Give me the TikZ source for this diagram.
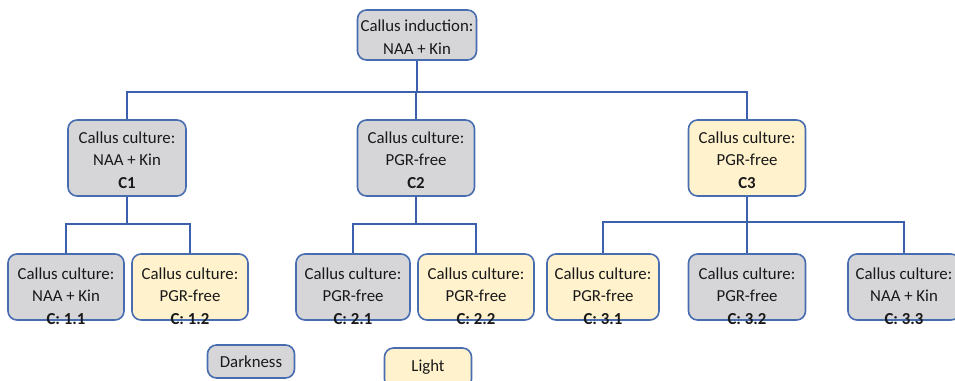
\documentclass[tikz,border=0pt]{standalone}
\usepackage{fontspec}
\setmainfont{Carlito}
\definecolor{gfill}{RGB}{214,214,216}
\definecolor{yfill}{RGB}{255,242,204}
\definecolor{bord}{RGB}{72,108,176}
\definecolor{conn}{RGB}{60,96,172}
\definecolor{txt}{RGB}{25,25,25}
\begin{document}
\begin{tikzpicture}[x=1pt,y=-1pt,
  boxbase/.style={draw=bord,line width=1.6pt,rounded corners=9pt,inner sep=0pt},
  gbox/.style={boxbase,fill=gfill},
  ybox/.style={boxbase,fill=yfill},
  lbl/.style={align=center,text=txt,font=\fontsize{16.8}{22.5}\selectfont,inner sep=0pt},
  conline/.style={draw=conn,line width=1.6pt}]
\useasboundingbox (0,0) rectangle (955,380);
% top
\node[gbox,minimum width=119pt,minimum height=50pt] (top) at (417,35) {};
\node[lbl] (topt) at (417,37) {Callus induction:\\NAA + Kin};
% level 1
\node[gbox,minimum width=118pt,minimum height=76pt] (c1) at (127,158) {};
\node[lbl] (c1t) at (127,160) {Callus culture:\\NAA + Kin\\\textbf{C1}};
\node[gbox,minimum width=117pt,minimum height=76pt] (c2) at (416,158) {};
\node[lbl] (c2t) at (416,160) {Callus culture:\\PGR-free\\\textbf{C2}};
\node[ybox,minimum width=117pt,minimum height=76pt] (c3) at (747,158) {};
\node[lbl] (c3t) at (747,160) {Callus culture:\\PGR-free\\\textbf{C3}};
% level 2
\node[gbox,minimum width=116pt,minimum height=66pt] (c11) at (66,287) {};
\node[lbl] (c11t) at (66,296) {Callus culture:\\NAA + Kin\\\textbf{C: 1.1}};
\node[ybox,minimum width=116pt,minimum height=66pt] (c12) at (190,287) {};
\node[lbl] (c12t) at (190,296) {Callus culture:\\PGR-free\\\textbf{C: 1.2}};
\node[gbox,minimum width=114pt,minimum height=66pt] (c21) at (353,287) {};
\node[lbl] (c21t) at (353,296) {Callus culture:\\PGR-free\\\textbf{C: 2.1}};
\node[ybox,minimum width=116pt,minimum height=66pt] (c22) at (476,287) {};
\node[lbl] (c22t) at (476,296) {Callus culture:\\PGR-free\\\textbf{C: 2.2}};
\node[ybox,minimum width=112pt,minimum height=66pt] (c31) at (603,287) {};
\node[lbl] (c31t) at (603,296) {Callus culture:\\PGR-free\\\textbf{C: 3.1}};
\node[gbox,minimum width=117pt,minimum height=66pt] (c32) at (747,287) {};
\node[lbl] (c32t) at (747,296) {Callus culture:\\PGR-free\\\textbf{C: 3.2}};
\node[gbox,minimum width=112pt,minimum height=66pt] (c33) at (904,287) {};
\node[lbl] (c33t) at (904,296) {Callus culture:\\NAA + Kin\\\textbf{C: 3.3}};
% legend
\node[gbox,minimum width=87pt,minimum height=33pt] (dark) at (251,361.5) {};
\node[lbl] (darkt) at (251,362) {Darkness};
\node[ybox,minimum width=87pt,minimum height=40pt] (light) at (428,368) {};
\node[lbl] (lightt) at (428,367) {Light};
% connectors
\coordinate (j0) at (417,92);
\draw[conline] (top.south) -- (j0);
\draw[conline] (c1.north) |- (j0) -| (c3.north);
\draw[conline] (c2.north) -- (c2.north |- j0);
\coordinate (j1) at (127,224);
\draw[conline] (c1.south) -- (j1);
\draw[conline] (c11.north) |- (j1) -| (c12.north);
\coordinate (j2) at (416,224);
\draw[conline] (c2.south) -- (j2);
\draw[conline] (c21.north) |- (j2) -| (c22.north);
\coordinate (j3) at (747,222);
\draw[conline] (c3.south) -- (j3);
\draw[conline] (c31.north) |- (j3) -| (c33.north);
\draw[conline] (j3) -- (c32.north);
\end{tikzpicture}
\end{document}
